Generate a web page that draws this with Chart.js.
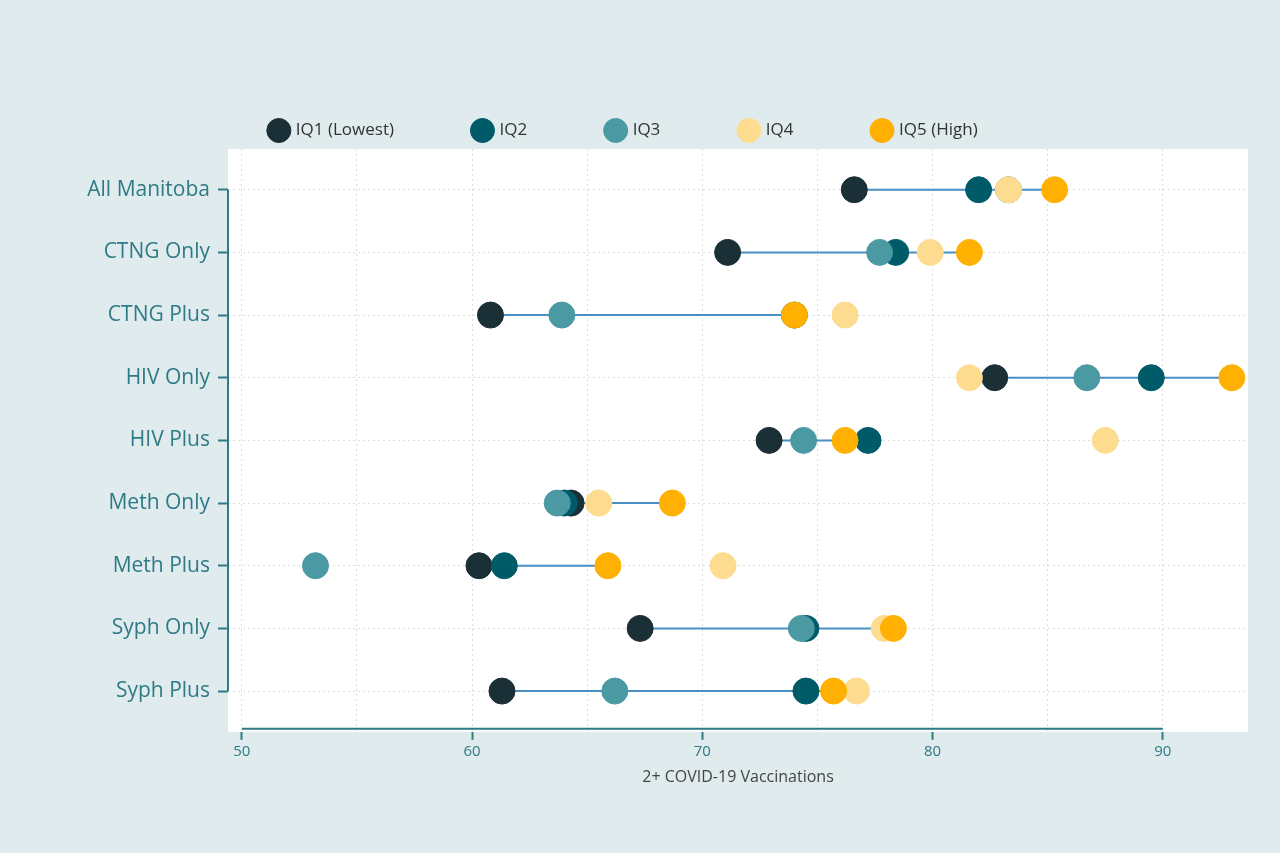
<!DOCTYPE html>
<html><head><meta charset="utf-8">
<script src="https://cdn.jsdelivr.net/npm/chart.js@4.4.0/dist/chart.umd.min.js"></script>
<style>html,body{margin:0;background:#e0ebee;}#wrap{width:1280px;height:853px;}</style>
</head><body><div id="wrap"><canvas id="c" width="1280" height="853"></canvas></div>
<script>
// rows, top to bottom
const groups = ["All Manitoba","CTNG Only","CTNG Plus","HIV Only","HIV Plus","Meth Only","Meth Plus","Syph Only","Syph Plus"];
const iq1 = [76.6, 71.1, 60.8, 82.7, 72.9, 64.3, 60.3, 67.3, 61.3];
const iq2 = [82.0, 78.4, 74.0, 89.5, 77.2, 64.0, 61.4, 74.5, 74.5];
const iq3 = [83.3, 77.7, 63.9, 86.7, 74.4, 63.7, 53.2, 74.3, 66.2];
const iq4 = [83.3, 79.9, 76.2, 81.6, 87.5, 65.5, 70.9, 77.9, 76.7];
const iq5 = [85.3, 81.6, 74.0, 93.0, 76.2, 68.7, 65.9, 78.3, 75.7];
const seriesNames = ["IQ1 (Lowest)","IQ2","IQ3","IQ4","IQ5 (High)"];
const colors = ["#1b2f36","#005b68","#4b99a3","#fddc90","#ffb000"];
const teal = "#2e7a86";

const pts = arr => arr.map((v, i) => ({x: v, y: i}));
// range line IQ1 -> IQ5, gaps between rows
const rangeLine = [];
groups.forEach((g, i) => { rangeLine.push({x: iq1[i], y: i}, {x: iq5[i], y: i}, {x: null, y: i}); });

const datasets = [{
  label: "range", data: rangeLine, showLine: true, spanGaps: false,
  borderColor: "#4a8fc4", borderWidth: 2, pointRadius: 0, order: 10
}];
[iq1, iq2, iq3, iq4, iq5].forEach((arr, k) => datasets.push({
  label: seriesNames[k], data: pts(arr), backgroundColor: colors[k], borderColor: colors[k],
  pointRadius: 13, pointHoverRadius: 13, order: 5 - k
}));

const bgPlugin = {
  id: "bg",
  beforeDraw(chart) {
    const a = chart.chartArea, ctx = chart.ctx;
    ctx.save(); ctx.fillStyle = "#fff";
    ctx.fillRect(a.left, a.top, a.right - a.left, a.bottom - a.top);
    ctx.restore();
  },
  afterDraw(chart) {
    const ctx = chart.ctx, x = chart.scales.x, y = chart.scales.y, a = chart.chartArea;
    ctx.save(); ctx.strokeStyle = teal; ctx.lineWidth = 2;
    ctx.beginPath();
    ctx.moveTo(a.left, y.getPixelForValue(0)); ctx.lineTo(a.left, y.getPixelForValue(8));
    ctx.moveTo(x.getPixelForValue(50), a.bottom - 3); ctx.lineTo(x.getPixelForValue(90), a.bottom - 3);
    ctx.stroke(); ctx.restore();
  }
};

new Chart(document.getElementById("c"), {
  type: "scatter",
  data: {datasets},
  plugins: [bgPlugin],
  options: {
    responsive: false, animation: false,
    layout: {padding: {top: 42, right: 32, bottom: 62, left: 0}},
    plugins: {
      tooltip: {enabled: false},
      legend: {
        labels: {
          filter: it => it.text !== "range", sort: (a, b) => a.datasetIndex - b.datasetIndex,
          usePointStyle: true, pointStyle: "circle",
          boxWidth: 30, boxHeight: 30, padding: 80, color: "#333",
          font: {family: "Open Sans", size: 17}
        }
      }
    },
    scales: {
      x: {
        min: 49.4, max: 93.7,
        afterBuildTicks: s => { s.ticks = [50,55,60,65,70,75,80,85,90].map(v => ({value: v})); },
        ticks: {callback: v => v % 10 === 0 ? v : "", color: teal, font: {family: "Open Sans", size: 15}, maxRotation: 0, autoSkip: false},
        grid: {color: "#dcdcdc", tickColor: c => c.tick && c.tick.value % 10 === 0 ? teal : "transparent", tickLength: 8, tickWidth: 2},
        border: {display: false, dash: [2, 3]},
        title: {display: true, text: "2+ COVID-19 Vaccinations", color: "#444", font: {family: "Open Sans", size: 16}}
      },
      y: {
        reverse: true, min: -0.65, max: 8.65,
        afterBuildTicks: s => { s.ticks = groups.map((g, i) => ({value: i})); },
        afterFit: s => { s.width = 228; },
        ticks: {callback: v => groups[v], color: teal, font: {family: "Open Sans", size: 21}, autoSkip: false, padding: 8},
        grid: {color: "#dedede", tickColor: teal, tickLength: 10, tickWidth: 2},
        border: {display: false, dash: [2, 3]}
      }
    }
  }
});
</script></body></html>
